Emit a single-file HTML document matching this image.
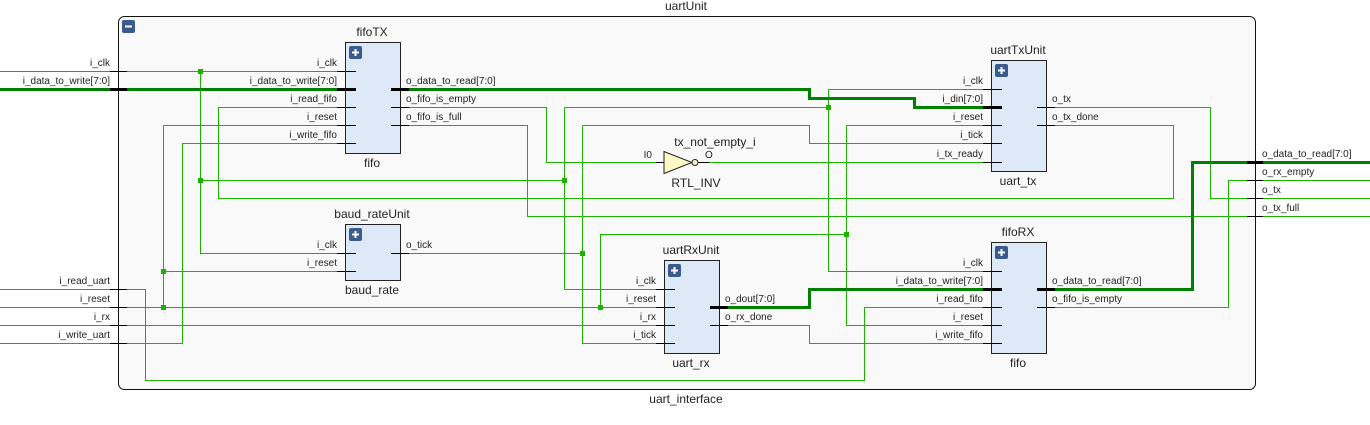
<!DOCTYPE html>
<html><head><meta charset="utf-8"><style>
html,body{margin:0;padding:0;background:#fff;width:1370px;height:425px;overflow:hidden}
text{font-family:"Liberation Sans",sans-serif;font-size:10px;fill:#222}
.t{font-size:12px}
.w{stroke:#1db100;stroke-width:1;fill:none}
.b{stroke:#008000;stroke-width:3;fill:none}
.s{stroke:#000;stroke-width:1}
.sb{stroke:#000;stroke-width:3}
.box{fill:#dde9f7;stroke:#222;stroke-width:1}
</style></head><body>
<svg width="1370" height="425" viewBox="0 0 1370 425" xmlns="http://www.w3.org/2000/svg">
<rect x="118.5" y="16.5" width="1137" height="373" rx="6" fill="#f9f9f9" stroke="#111"/>
<rect x="122" y="20" width="13" height="13" rx="2" fill="#3b5a8e"/><rect x="125" y="25.5" width="7" height="2" fill="#fff"/>
<text class="t" x="686" y="10" text-anchor="middle">uartUnit</text>
<text class="t" x="686" y="403" text-anchor="middle">uart_interface</text>

<g shape-rendering="crispEdges">
<!-- wires -->
<path class="w" d="M0 71.5H345"/>
<path class="w" d="M0 289.5H145.5V380.5H864.5V307.5H991"/>
<path class="w" d="M0 307.5H664"/>
<path class="w" d="M163.5 125.5V307.5M163.5 125.5H345M163.5 271.5H345"/>
<path class="w" d="M0 325.5H664"/>
<path class="w" d="M0 343.5H182.5V143.5H345"/>
<path class="w" d="M200.5 71.5V253.5H345M200.5 180.5H564.5M564.5 107.5V289.5H664M564.5 107.5H828.5M828.5 89.5V271.5H991M828.5 89.5H991"/>
<path class="w" d="M345 107.5H218.5V198.5H1173.5V125.5H1046"/>
<path class="w" d="M400 107.5H546.5V162.5H664"/>
<path class="w" d="M700 162.5H991"/>
<path class="w" d="M400 125.5H527.5V216.5H1370"/>
<path class="w" d="M400 253.5H582.5M582.5 125.5V343.5H664M582.5 125.5H809.5V143.5H991"/>
<path class="w" d="M600.5 307.5V234.5H846.5M846.5 125.5V325.5H991M846.5 125.5H991"/>
<path class="w" d="M719 325.5H809.5V343.5H991"/>
<path class="w" d="M1046 107.5H1210.5V198.5H1370"/>
<path class="w" d="M1046 307.5H1228.5V180.5H1370"/>
<path class="b" d="M0 89.5H345"/>
<path class="b" d="M400 89.5H809.5V98.5H914.5V107.5H991"/>
<path class="b" d="M719 307.5H809.5V289.5H991"/>
<path class="b" d="M1046 289.5H1192.5V162.5H1370"/>
<!-- dots -->
<g fill="#1db100">
<rect x="198" y="69" width="5" height="5"/><rect x="198" y="178" width="5" height="5"/>
<rect x="161" y="269" width="5" height="5"/><rect x="161" y="305" width="5" height="5"/>
<rect x="562" y="178" width="5" height="5"/><rect x="826" y="105" width="5" height="5"/>
<rect x="580" y="251" width="5" height="5"/><rect x="598" y="305" width="5" height="5"/>
<rect x="844" y="232" width="5" height="5"/>
</g>
<!-- outer port stubs -->
<path class="s" d="M110 71.5H127M110 289.5H127M110 307.5H127M110 325.5H127M110 343.5H127M1247 180.5H1263M1247 198.5H1263M1247 216.5H1263"/>
<path class="sb" d="M110 89.5H127M1247 162.5H1263"/>
</g>
<text x="110" y="66" text-anchor="end">i_clk</text>
<text x="110" y="84" text-anchor="end">i_data_to_write[7:0]</text>
<text x="110" y="284" text-anchor="end">i_read_uart</text>
<text x="110" y="302" text-anchor="end">i_reset</text>
<text x="110" y="320" text-anchor="end">i_rx</text>
<text x="110" y="338" text-anchor="end">i_write_uart</text>
<text x="1262" y="157">o_data_to_read[7:0]</text>
<text x="1262" y="175">o_rx_empty</text>
<text x="1262" y="193">o_tx</text>
<text x="1262" y="211">o_tx_full</text>

<!-- fifoTX -->
<g shape-rendering="crispEdges">
<rect class="box" x="345.5" y="42.5" width="55" height="111"/>
<path class="s" d="M337 71.5H356M337 107.5H356M337 125.5H356M337 143.5H356M391 107.5H409M391 125.5H409"/>
<path class="sb" d="M337 89.5H356M391 89.5H409"/>
<rect class="box" x="345.5" y="224.5" width="55" height="56"/>
<path class="s" d="M337 253.5H356M337 271.5H356M391 253.5H409"/>
<rect class="box" x="991.5" y="60.5" width="55" height="111"/>
<path class="s" d="M983 89.5H1002M983 125.5H1002M983 143.5H1002M983 162.5H1002M1037 107.5H1055M1037 125.5H1055"/>
<path class="sb" d="M983 107.5H1002"/>
<rect class="box" x="991.5" y="242.5" width="55" height="111"/>
<path class="s" d="M983 271.5H1002M983 307.5H1002M983 325.5H1002M983 343.5H1002M1037 307.5H1055"/>
<path class="sb" d="M983 289.5H1002M1037 289.5H1055"/>
<rect class="box" x="664.5" y="260.5" width="55" height="93"/>
<path class="s" d="M656 289.5H675M656 307.5H675M656 325.5H675M656 343.5H675M710 325.5H728"/>
<path class="sb" d="M710 307.5H728"/>
</g>
<g fill="#3b5a8e">
<rect x="349" y="46" width="13" height="13" rx="2"/><rect x="349" y="228" width="13" height="13" rx="2"/>
<rect x="995" y="64" width="13" height="13" rx="2"/><rect x="995" y="246" width="13" height="13" rx="2"/>
<rect x="668" y="264" width="13" height="13" rx="2"/>
</g>
<g stroke="#fff" stroke-width="2">
<path d="M352 52.5H359M355.5 49V56M352 234.5H359M355.5 231V238M998 70.5H1005M1001.5 67V74M998 252.5H1005M1001.5 249V256M671 270.5H678M674.5 267V274"/>
</g>
<text class="t" x="372" y="36" text-anchor="middle">fifoTX</text>
<text class="t" x="372" y="167" text-anchor="middle">fifo</text>
<text x="337" y="66" text-anchor="end">i_clk</text>
<text x="337" y="84" text-anchor="end">i_data_to_write[7:0]</text>
<text x="337" y="102" text-anchor="end">i_read_fifo</text>
<text x="337" y="120" text-anchor="end">i_reset</text>
<text x="337" y="138" text-anchor="end">i_write_fifo</text>
<text x="406" y="84">o_data_to_read[7:0]</text>
<text x="406" y="102">o_fifo_is_empty</text>
<text x="406" y="120">o_fifo_is_full</text>

<text class="t" x="372" y="218" text-anchor="middle">baud_rateUnit</text>
<text class="t" x="372" y="294" text-anchor="middle">baud_rate</text>
<text x="337" y="248" text-anchor="end">i_clk</text>
<text x="337" y="266" text-anchor="end">i_reset</text>
<text x="406" y="248">o_tick</text>

<text class="t" x="1018" y="54" text-anchor="middle">uartTxUnit</text>
<text class="t" x="1018" y="185" text-anchor="middle">uart_tx</text>
<text x="983" y="84" text-anchor="end">i_clk</text>
<text x="983" y="102" text-anchor="end">i_din[7:0]</text>
<text x="983" y="120" text-anchor="end">i_reset</text>
<text x="983" y="138" text-anchor="end">i_tick</text>
<text x="983" y="157" text-anchor="end">i_tx_ready</text>
<text x="1052" y="102">o_tx</text>
<text x="1052" y="120">o_tx_done</text>

<text class="t" x="1018" y="236" text-anchor="middle">fifoRX</text>
<text class="t" x="1018" y="367" text-anchor="middle">fifo</text>
<text x="983" y="266" text-anchor="end">i_clk</text>
<text x="983" y="284" text-anchor="end">i_data_to_write[7:0]</text>
<text x="983" y="302" text-anchor="end">i_read_fifo</text>
<text x="983" y="320" text-anchor="end">i_reset</text>
<text x="983" y="338" text-anchor="end">i_write_fifo</text>
<text x="1052" y="284">o_data_to_read[7:0]</text>
<text x="1052" y="302">o_fifo_is_empty</text>

<text class="t" x="691" y="254" text-anchor="middle">uartRxUnit</text>
<text class="t" x="691" y="367" text-anchor="middle">uart_rx</text>
<text x="656" y="284" text-anchor="end">i_clk</text>
<text x="656" y="302" text-anchor="end">i_reset</text>
<text x="656" y="320" text-anchor="end">i_rx</text>
<text x="656" y="338" text-anchor="end">i_tick</text>
<text x="725" y="302">o_dout[7:0]</text>
<text x="725" y="320">o_rx_done</text>

<!-- inverter -->
<path d="M656 162.5H664M698 162.5H709" stroke="#000"/>
<polygon points="664,151.5 664,173.5 692,162.5" fill="#fbf8c4" stroke="#222"/>
<circle cx="695" cy="162.5" r="3" fill="#fbf8c4" stroke="#222"/>
<text x="652" y="158" text-anchor="end">I0</text>
<text x="705" y="158">O</text>
<text class="t" x="715" y="146" text-anchor="middle">tx_not_empty_i</text>
<text class="t" x="696" y="187" text-anchor="middle">RTL_INV</text>
</svg>
</body></html>
